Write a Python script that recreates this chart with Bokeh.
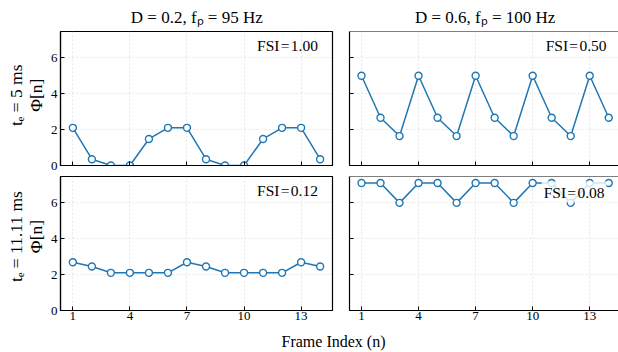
from math import pi
from bokeh.plotting import figure
from bokeh.layouts import column, row
from bokeh.models import Range1d, Label, Span, FixedTicker, CustomLabelingPolicy
from bokeh.embed import file_html
from bokeh.resources import INLINE

# ---------------- data ----------------
frames = list(range(1, 15))
phi_te5_d02 = [2.1, 0.35, 0.0, 0.0, 1.48, 2.1, 2.1, 0.35, 0.0, 0.0, 1.48, 2.1, 2.1, 0.35]
phi_te5_d06 = [5.0, 2.66, 1.64, 5.0, 2.66, 1.64, 5.0, 2.66, 1.64, 5.0, 2.66, 1.64, 5.0, 2.66]
phi_te11_d02 = [2.69, 2.45, 2.1, 2.1, 2.1, 2.1, 2.69, 2.45, 2.1, 2.1, 2.1, 2.1, 2.69, 2.45]
phi_te11_d06 = [7.11, 7.11, 6.0, 7.11, 7.11, 6.0, 7.11, 7.11, 6.0, 7.11, 7.11, 6.0, 7.11, 7.11]
fsi_values = [["1.00", "0.50"], ["0.12", "0.08"]]
col_titles = ["D = 0.2, fₚ = 95 Hz", "D = 0.6, fₚ = 100 Hz"]
row_labels = ["tₑ = 5 ms", "tₑ = 11.11 ms"]
y_label_2 = "Φ[n]"
x_label = "Frame Index (n)"
x_ticks = [1, 4, 7, 10, 13]
y_ticks = [0, 2, 4, 6]

FONT = "Liberation Serif"
BLUE = "#1f77b4"
Y_MAX = 7.47
HS = "\u200a"  # hair space

TITLE_H = 29
TOP_H, TOP_BT, TOP_BB = 145, 2, 9
BOT_H, BOT_BT, BOT_BB = 154, 2, 18
FRAME_H = 134
STRIP_W = 46


def no_labels():
    return CustomLabelingPolicy(code="return new Set()")


def blank_fig(w, h):
    s = figure(width=w, height=h, x_range=Range1d(0, w), y_range=Range1d(0, h),
               output_backend="svg", toolbar_location=None,
               x_axis_location=None, y_axis_location=None, min_border=0)
    s.outline_line_color = None
    s.grid.visible = False
    return s


def make_panel(vals, fsi, r, c):
    top = r == 0
    left = c == 0
    if left:
        xr = Range1d(0.35, 14.65)
        w, bl, br = 294, 14, 8
    else:
        xr = Range1d(0.369, 14.512)
        w, bl, br = 278, 9, 0
    if top:
        h, bt, bb = TOP_H, TOP_BT, TOP_BB
    else:
        h, bt, bb = BOT_H, BOT_BT, BOT_BB
    p = figure(width=w, height=h, x_range=xr, y_range=Range1d(0, Y_MAX),
               output_backend="svg", toolbar_location=None,
               min_border_left=bl, min_border_right=br,
               min_border_top=bt, min_border_bottom=bb)
    p.background_fill_color = "white"
    p.border_fill_color = "white"
    if left:
        p.outline_line_color = "black"
        p.outline_line_width = 1.2
    else:
        p.outline_line_color = None
        p.add_layout(Span(location=Y_MAX, dimension="width",
                          line_color="black", line_width=1.2))

    for ax in (p.xaxis[0], p.yaxis[0]):
        ax.axis_line_color = "black"
        ax.axis_line_width = 1.2
        ax.major_tick_in = 4
        ax.major_tick_out = 0
        ax.minor_tick_line_color = None
        ax.major_tick_line_color = "black"
        ax.major_label_text_font = FONT
        ax.major_label_text_font_size = "13px"
        ax.major_label_text_color = "black"
    p.xaxis[0].ticker = FixedTicker(ticks=x_ticks)
    p.yaxis[0].ticker = FixedTicker(ticks=y_ticks)
    p.xaxis[0].major_label_standoff = 1
    p.yaxis[0].major_label_standoff = 3
    if top:
        p.xaxis[0].major_label_policy = no_labels()
        p.xaxis[0].major_label_text_font_size = "1px"
        p.xaxis[0].major_label_standoff = 0
    if not left:
        p.yaxis[0].major_label_policy = no_labels()
        p.yaxis[0].major_label_text_font_size = "1px"
        p.yaxis[0].major_label_standoff = 0

    for g in p.grid:
        g.grid_line_color = "#cccccc"
        g.grid_line_alpha = 0.6
        g.grid_line_dash = "2 2"
        g.grid_line_width = 0.8
    p.xgrid[0].ticker = FixedTicker(ticks=x_ticks)
    p.ygrid[0].ticker = FixedTicker(ticks=y_ticks)

    p.line(frames, vals, line_color=BLUE, line_width=1.5)
    p.scatter(frames, vals, marker="circle", size=7, fill_color="white",
              line_color=BLUE, line_width=1.4)

    # FSI annotation
    bg = dict(background_fill_color="white", background_fill_alpha=0.8, padding=2) if (r == 1 and c == 1) else {}
    p.add_layout(Label(x=14.65, y=Y_MAX, x_offset=-14.6, y_offset=-5,
                       text="FSI" + HS + "=" + HS + fsi, text_align="right", text_baseline="top",
                       text_font=FONT, text_font_size="15.5px", text_color="black", **bg))
    return p


def label_strip(r):
    h = TOP_H if r == 0 else BOT_H
    bb = TOP_BB if r == 0 else BOT_BB
    s = blank_fig(STRIP_W, h)
    yc = bb + FRAME_H / 2
    s.add_layout(Label(x=15, y=yc, text=row_labels[r], angle=pi / 2,
                       text_align="center", text_baseline="middle",
                       text_font=FONT, text_font_size="17.5px", text_color="black"))
    s.add_layout(Label(x=35, y=yc, text=y_label_2, angle=pi / 2,
                       text_align="center", text_baseline="middle",
                       text_font=FONT, text_font_size="17.5px", text_color="black"))
    return s


data = [[phi_te5_d02, phi_te5_d06], [phi_te11_d02, phi_te11_d06]]
panels = [[make_panel(data[r][c], fsi_values[r][c], r, c) for c in range(2)] for r in range(2)]

title_strip = blank_fig(618, TITLE_H)
for cx, t in zip([196.3, 484.7], col_titles):
    title_strip.add_layout(Label(x=cx, y=12, text=t, text_align="center", text_baseline="alphabetic",
                                 text_font=FONT, text_font_size="17px", text_color="black"))

strip = blank_fig(618, 24)
strip.add_layout(Label(x=333, y=11, text=x_label, text_align="center", text_baseline="middle",
                       text_font=FONT, text_font_size="16px", text_color="black"))

layout = column(title_strip,
                row(label_strip(0), panels[0][0], panels[0][1]),
                row(label_strip(1), panels[1][0], panels[1][1]),
                strip)

open("out.html", "w").write(file_html(layout, INLINE))
